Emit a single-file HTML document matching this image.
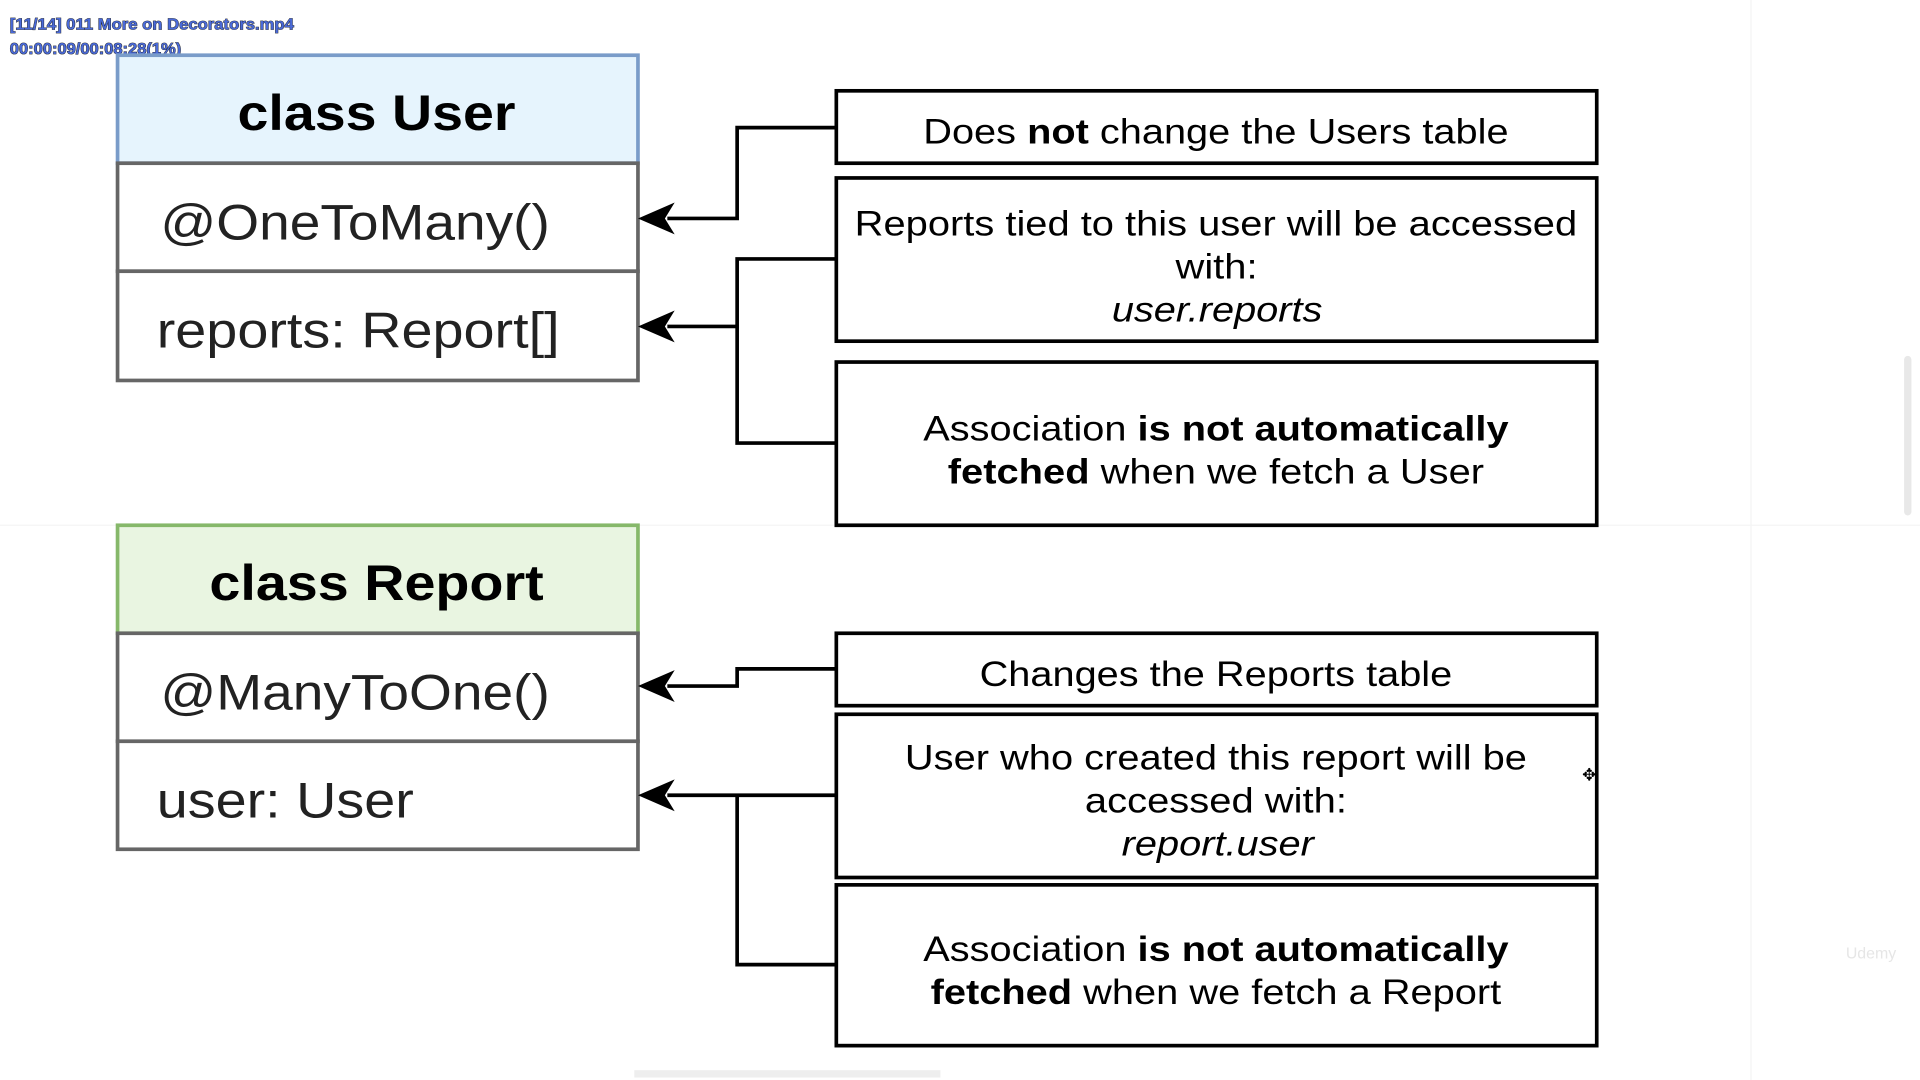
<!DOCTYPE html>
<html><head><meta charset="utf-8"><style>
html,body{margin:0;padding:0;background:#fff;width:1920px;height:1080px;overflow:hidden}
svg{display:block}
text{font-family:"Liberation Sans",sans-serif}
</style></head><body>
<svg width="1920" height="1080" viewBox="0 0 1568 880" preserveAspectRatio="none" xmlns="http://www.w3.org/2000/svg">
<rect x="0" y="0" width="1568" height="880" fill="#fff"/>
<line x1="1430" y1="0" x2="1430" y2="880" stroke="#f3f3f3"/>
<line x1="0" y1="428" x2="1568" y2="428" stroke="#f5f5f5"/>
<rect x="1555" y="290" width="6" height="130" fill="#e8e8e8" rx="3"/>
<rect x="518" y="872" width="250" height="6" fill="#eee"/>
<g font-size="13" font-weight="bold" fill="#4a6ad8" stroke="#222" stroke-width="0.7" paint-order="stroke" lengthAdjust="spacingAndGlyphs">
<text x="8" y="24" textLength="232" lengthAdjust="spacingAndGlyphs">[11/14] 011 More on Decorators.mp4</text>
<text x="8" y="44" textLength="140" lengthAdjust="spacingAndGlyphs">00:00:09/00:08:28(1%)</text>
</g>
<g stroke="#666" stroke-width="3">
<rect x="96" y="45" width="425" height="88" fill="#e6f4fd" stroke="#7a9cc9"/>
<rect x="96" y="133" width="425" height="88" fill="#fff"/>
<rect x="96" y="221" width="425" height="89" fill="#fff"/>
<rect x="96" y="428" width="425" height="88" fill="#e9f5e1" stroke="#86b86a"/>
<rect x="96" y="516" width="425" height="88" fill="#fff"/>
<rect x="96" y="604" width="425" height="88" fill="#fff"/>
</g>
<g font-size="41" fill="#000">
<text x="194" y="106" font-weight="bold" textLength="227" lengthAdjust="spacingAndGlyphs">class User</text>
<text x="131" y="195" fill="#222" textLength="318" lengthAdjust="spacingAndGlyphs">@OneToMany()</text>
<text x="128" y="283" fill="#222" textLength="329" lengthAdjust="spacingAndGlyphs">reports: Report[]</text>
<text x="171" y="489" font-weight="bold" textLength="273" lengthAdjust="spacingAndGlyphs">class Report</text>
<text x="131" y="578" fill="#222" textLength="318" lengthAdjust="spacingAndGlyphs">@ManyToOne()</text>
<text x="128" y="666" fill="#222" textLength="210" lengthAdjust="spacingAndGlyphs">user: User</text>
</g>
<g stroke="#000" stroke-width="3" fill="#fff">
<rect x="683" y="74" width="621" height="59"/>
<rect x="683" y="145" width="621" height="133"/>
<rect x="683" y="295" width="621" height="133"/>
<rect x="683" y="516" width="621" height="59"/>
<rect x="683" y="582" width="621" height="133"/>
<rect x="683" y="721" width="621" height="131"/>
</g>
<g font-size="29" fill="#000">
<text x="754" y="117" textLength="478" lengthAdjust="spacingAndGlyphs">Does <tspan font-weight="bold">not</tspan> change the Users table</text>
<text x="698" y="192" textLength="590" lengthAdjust="spacingAndGlyphs">Reports tied to this user will be accessed</text>
<text x="960" y="227" textLength="67" lengthAdjust="spacingAndGlyphs">with:</text>
<text x="908" y="262" font-style="italic" textLength="172" lengthAdjust="spacingAndGlyphs">user.reports</text>
<text x="754" y="359" textLength="478" lengthAdjust="spacingAndGlyphs">Association <tspan font-weight="bold">is not automatically</tspan></text>
<text x="774" y="394" textLength="438" lengthAdjust="spacingAndGlyphs"><tspan font-weight="bold">fetched</tspan> when we fetch a User</text>
<text x="800" y="559" textLength="386" lengthAdjust="spacingAndGlyphs">Changes the Reports table</text>
<text x="739" y="627" textLength="508" lengthAdjust="spacingAndGlyphs">User who created this report will be</text>
<text x="886" y="662" textLength="214" lengthAdjust="spacingAndGlyphs">accessed with:</text>
<text x="916" y="697" font-style="italic" textLength="157" lengthAdjust="spacingAndGlyphs">report.user</text>
<text x="754" y="783" textLength="478" lengthAdjust="spacingAndGlyphs">Association <tspan font-weight="bold">is not automatically</tspan></text>
<text x="760" y="818" textLength="466" lengthAdjust="spacingAndGlyphs"><tspan font-weight="bold">fetched</tspan> when we fetch a Report</text>
</g>
<g stroke="#000" stroke-width="3" fill="none">
<polyline points="683,104 602,104 602,178 545,178"/>
<polyline points="683,211 602,211 602,361 683,361"/>
<line x1="602" y1="266" x2="545" y2="266"/>
<polyline points="683,545 602,545 602,559 545,559"/>
<line x1="683" y1="648" x2="545" y2="648"/>
<polyline points="602,648 602,786 683,786"/>
</g>
<g fill="#000">
<polygon points="521,178 551,165 543,178 551,191"/>
<polygon points="521,266 551,253 543,266 551,279"/>
<polygon points="521,559 551,546 543,559 551,572"/>
<polygon points="521,648 551,635 543,648 551,661"/>
</g>
<text x="1298" y="636" font-size="14" text-anchor="middle">✥</text>
<text x="1528" y="781" font-size="13" fill="#e6e6e6" text-anchor="middle">Udemy</text>
</svg>
</body></html>
